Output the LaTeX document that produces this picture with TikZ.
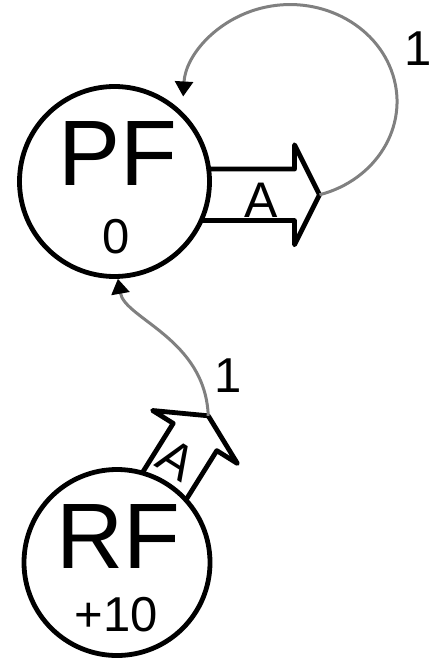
\documentclass[tikz,border=0pt]{standalone}
\usepackage{fontspec}
\setmainfont{Liberation Sans}
\usetikzlibrary{arrows.meta}
\begin{document}
\begin{tikzpicture}[x=1pt,y=-1pt,
  state/.style={circle,draw=black,line width=4.8pt,fill=white,inner sep=0pt},
  bigname/.style={font=\fontsize{93}{93}\selectfont,inner sep=0pt},
  smallval/.style={font=\fontsize{49}{49}\selectfont,inner sep=0pt},
  blockarrow/.style={draw=black,line width=4.8pt,fill=white,line join=round},
  arrowlabel/.style={font=\fontsize{50}{50}\selectfont,inner sep=0pt},
  link/.style={draw=black!50,line width=3pt,-{Triangle[length=15pt,width=18pt,color=black]}},
  weight/.style={font=\fontsize{49}{49}\selectfont,inner sep=0pt}
]
\useasboundingbox (0,0) rectangle (434,663);

% block arrow leaving PF
\begin{scope}[shift={(294.5,194.8)}]
  \draw[blockarrow] (-110,-25.7) -- (0,-25.7) -- (0,-50) -- (25,0)
    -- (0,50) -- (0,25.7) -- (-110,25.7) -- cycle;
  \coordinate (pfatip) at (25,0);
  \node[arrowlabel] (pfalabel) at (-33,5) {A};
\end{scope}

% block arrow leaving RF
\begin{scope}[shift={(195,437)},rotate=58]
  \draw[blockarrow] (-110,-25.7) -- (0,-25.7) -- (0,-50) -- (25,0)
    -- (0,50) -- (0,25.7) -- (-110,25.7) -- cycle;
  \coordinate (rfatip) at (25,0);
  \node[arrowlabel,rotate=-32] (rfalabel) at (-29,-3) {A};
\end{scope}

% places
\node[state,minimum size=190pt] (pf) at (114.5,181.5) {};
\node[state,minimum size=186pt] (rf) at (117,562.5) {};

\node[bigname] (pfname) at (118,153.5) {PF};
\node[smallval] (pfval) at (116.5,236.5) {0};
\node[bigname] (rfname) at (118,536.5) {RF};
\node[smallval] (rfval) at (116.5,614.5) {+10};

% connectors (y axis points down, so the self-loop runs through decreasing angles)
\draw[link] (pfatip) arc[start angle=74,end angle=-177,x radius=107,y radius=97];
\draw[link] (rfatip) .. controls +(-3,-77) and +(7,40) .. (pf.-88);

\node[weight] (loopw) at (418.5,49) {1};
\node[weight] (linkw) at (228,375.5) {1};
\end{tikzpicture}
\end{document}
